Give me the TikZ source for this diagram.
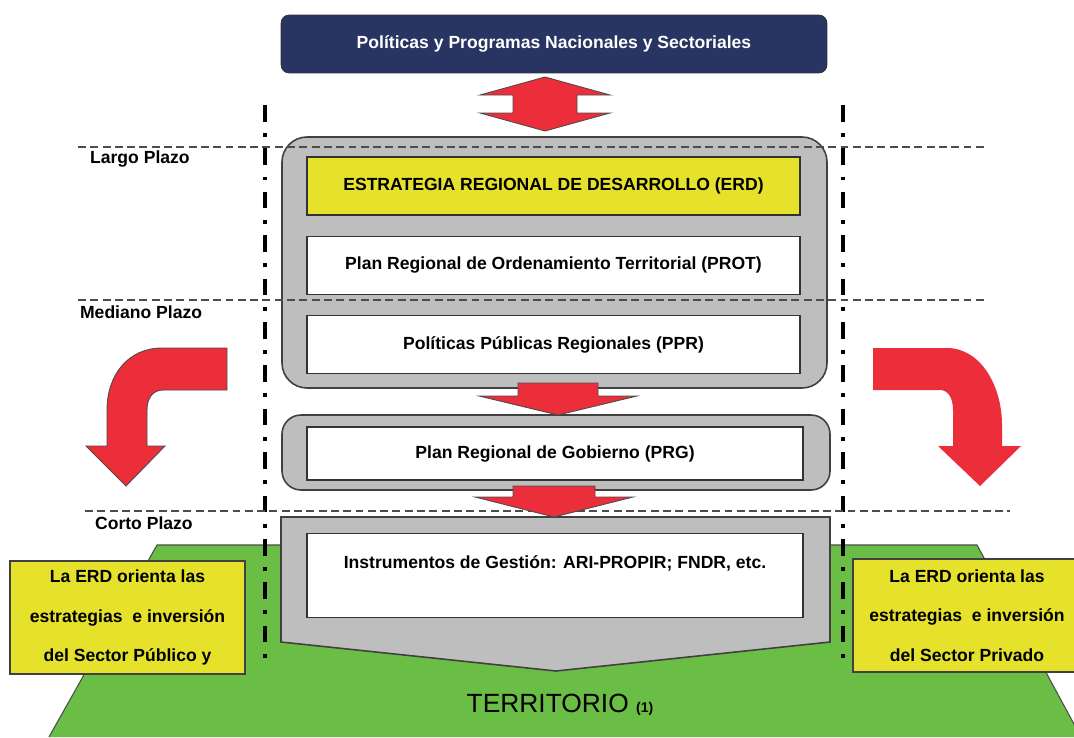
\documentclass[tikz,border=0pt]{standalone}
\usepackage{fontspec}
\setmainfont{Liberation Sans}
\usepackage{tikz}
\usetikzlibrary{positioning}
\definecolor{navy}{HTML}{283462}
\definecolor{erdyellow}{HTML}{E6E22C}
\definecolor{arrowred}{HTML}{EC2E3B}
\definecolor{landgreen}{HTML}{6ABD45}
\definecolor{panelgray}{HTML}{BEBEBE}

\begin{document}
\begin{tikzpicture}[
    x=0.02cm, y=-0.02cm,
    panel/.style={draw=black!75, line width=0.9pt, fill=panelgray},
    inbox/.style={draw=black!80, line width=0.8pt, fill=white,
                  minimum width=9.86cm, minimum height=1.16cm, inner sep=2pt},
    blockarrow/.style={draw=black!70, line width=0.5pt, fill=arrowred},
    sidebox/.style={draw=black!75, line width=0.8pt, fill=erdyellow,
                    minimum width=4.7cm, minimum height=2.26cm, align=center,
                    font=\bfseries\fontsize{10}{22.5}\selectfont},
    plazo/.style={anchor=west, inner sep=1pt},
    horizonte/.style={draw=black!70, line width=0.6pt, dash pattern=on 4.5pt off 2.5pt},
    eje/.style={line width=1.8pt, dash pattern=on 9.5pt off 6.5pt on 2.2pt off 6.5pt},
    every node/.style={font=\bfseries\fontsize{10}{12}\selectfont}]

    \useasboundingbox (0,0) rectangle (1074,737);

    \fill[landgreen] (49,737) -- (157,545) -- (977,545) -- (1081,737) -- cycle;
    \draw[black!70, line width=0.6pt] (49,737) -- (157,545) -- (977,545) -- (1081,737);

    \node[sidebox] (publico) at (127.5,617.5) {La ERD orienta las\\estrategias~ e inversión\\del Sector Público y};
    \node[sidebox, minimum width=4.56cm] (privado) at (967,615.5) {La ERD orienta las\\estrategias~ e inversión\\del Sector Privado};

    \draw[eje] (265,105) -- (265,665);
    \draw[eje] (843,105) -- (843,665);

    \node[draw=black!80, fill=navy, text=white, rounded corners=0.16cm,
          minimum width=10.92cm, minimum height=1.16cm] (nacional) at (554,44)
          {Políticas y Programas Nacionales y Sectoriales};

    \draw[panel, rounded corners=0.5cm] (282,137) rectangle (827,388);
    \draw[panel, rounded corners=0.38cm] (282,415) rectangle (830,490);
    \draw[panel] (281,517) -- (830,517) -- (830,642) -- (556,671) -- (281,642) -- cycle;

    \draw[horizonte] (78,147) -- (985,147);
    \draw[horizonte] (78,300) -- (985,300);
    \draw[horizonte] (85,511) -- (1010,511);

    \node[plazo] (largo) at (88,159) {Largo Plazo};
    \node[plazo] (mediano) at (78,312) {Mediano Plazo};
    \node[plazo] (corto) at (93,523) {Corto Plazo};

    \node[inbox, fill=erdyellow] (erd) at (553.5,186) {ESTRATEGIA REGIONAL DE DESARROLLO (ERD)};
    \node[inbox, below=0.4cm of erd] (prot) {Plan Regional de Ordenamiento Territorial (PROT)};
    \node[inbox, below=0.4cm of prot] (ppr) {Políticas Públicas Regionales (PPR)};
    \node[inbox, minimum width=9.92cm, minimum height=1.06cm] (prg) at (555,453.5) {Plan Regional de Gobierno (PRG)};
    \node[inbox, anchor=north, minimum width=9.92cm, minimum height=1.68cm,
          text height=0.55cm, text depth=0.85cm] (gestion) at (555,533)
          {Instrumentos de Gestión: ARI-PROPIR; FNDR, etc.};

    \node[font=\fontsize{15}{18}\selectfont] (territorio) at (560,705)
          {TERRITORIO {\bfseries\fontsize{8}{10}\selectfont(1)}};

    \draw[blockarrow] (545,77) -- (610,95) -- (577,95) -- (577,113) -- (610,113) -- (545,131)
          -- (480,113) -- (513,113) -- (513,95) -- (480,95) -- cycle;
    \draw[blockarrow] (518,383) -- (598,383) -- (598,396) -- (637,396) -- (558,415)
          -- (479,396) -- (518,396) -- cycle;
    \draw[blockarrow] (513,486) -- (595,486) -- (595,497) -- (633,497) -- (554,517)
          -- (475,497) -- (513,497) -- cycle;

    \draw[blockarrow] (227,348) -- (162,348) .. controls (128,348) and (107,375) .. (107,410)
          -- (107,446) -- (86,446) -- (126,486) -- (165,446) -- (147,446) -- (147,410)
          .. controls (147,398) and (153,390) .. (163,390) -- (227,390) -- cycle;
    \fill[arrowred] (873,348) -- (947,348) .. controls (980,348) and (1002,385) .. (1002,425)
          -- (1002,446) -- (1021,446) -- (980,486) -- (938,446) -- (953,446) -- (953,410)
          .. controls (953,398) and (948,390) .. (940,390) -- (873,390) -- cycle;

\end{tikzpicture}
\end{document}
